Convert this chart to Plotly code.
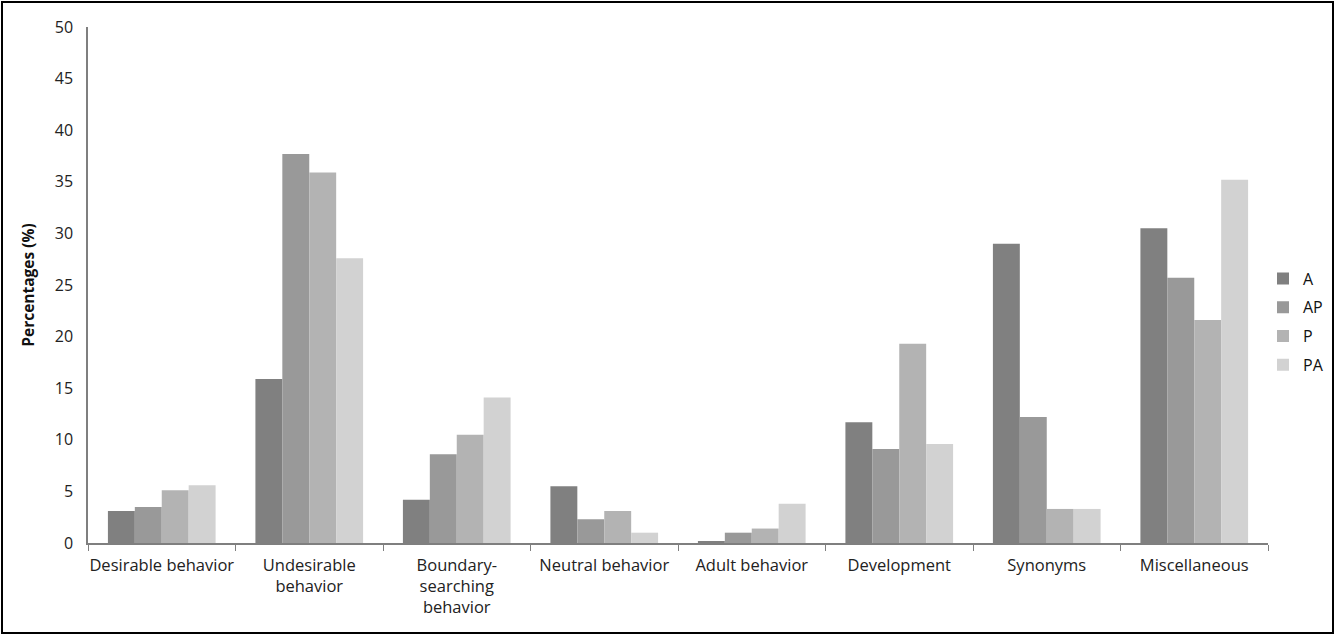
import plotly.graph_objects as go

categories = ["Desirable behavior", "Undesirable<br>behavior", "Boundary-<br>searching<br>behavior",
              "Neutral behavior", "Adult behavior", "Development", "Synonyms", "Miscellaneous"]
series_names = ["A", "AP", "P", "PA"]
vals_A = [3.1, 15.9, 4.2, 5.5, 0.1, 11.7, 29.0, 30.5]
vals_AP = [3.5, 37.7, 8.6, 2.3, 1.0, 9.1, 12.2, 25.7]
vals_P = [5.1, 35.9, 10.5, 3.1, 1.4, 19.3, 3.3, 21.6]
vals_PA = [5.6, 27.6, 14.1, 1.0, 3.8, 9.6, 3.3, 35.2]
colors = ["#808080", "#999999", "#b3b3b3", "#d2d2d2"]
y_ticks = [0, 5, 10, 15, 20, 25, 30, 35, 40, 45, 50]

FONT = "'Open Sans', 'Noto Sans', sans-serif"
W, H = 1335, 635
L, R, T, B = 88, 67, 27, 92

fig = go.Figure()
for name, vals, col in zip(series_names, [vals_A, vals_AP, vals_P, vals_PA], colors):
    fig.add_trace(go.Bar(name=name, x=categories, y=vals, legendgroup=name,
                         marker=dict(color=col, line=dict(width=0))))

pw, ph = W - L - R, H - T - B
fig.update_layout(
    width=W, height=H,
    margin=dict(l=L, r=R, t=T, b=B, autoexpand=False),
    paper_bgcolor="white", plot_bgcolor="white",
    barmode="group", bargap=0.27, bargroupgap=0,
    font=dict(family=FONT, size=16, color="#222"),
    showlegend=True,
    legend=dict(x=(1263 - L) / pw, xanchor="left", y=(H - B - 322) / ph, yanchor="middle",
                font=dict(size=16, color="#111"), itemwidth=30, tracegroupgap=5,
                bgcolor="rgba(0,0,0,0)"),
    xaxis=dict(showline=True, linecolor="#7f7f7f", linewidth=1.5, ticks="outside", ticklen=6,
               tickcolor="#7f7f7f", tickson="boundaries", showgrid=False, ticklabelstandoff=6,
               tickfont=dict(size=16.5, color="#222"), tickangle=0),
    yaxis=dict(range=[0, 50], tickvals=y_ticks, showline=True, linecolor="#7f7f7f", linewidth=1.5,
               ticks="", showgrid=False, zeroline=False, ticklabelstandoff=10,
               tickfont=dict(size=16, color="#222"),
               title=dict(text="<b>Percentages (%)</b>", font=dict(size=15.5, color="#111"), standoff=16)),
    shapes=[dict(type="rect", xref="paper", yref="paper",
                 x0=(2 - L) / pw, x1=(W - 2 - L) / pw,
                 y0=-(B - 2) / ph, y1=(ph + T - 2) / ph,
                 line=dict(color="black", width=2), fillcolor="rgba(0,0,0,0)")],
)
fig.write_html("out.html", config={"displayModeBar": False},
               post_script="document.body.style.margin='0';document.body.style.overflow='hidden';")
